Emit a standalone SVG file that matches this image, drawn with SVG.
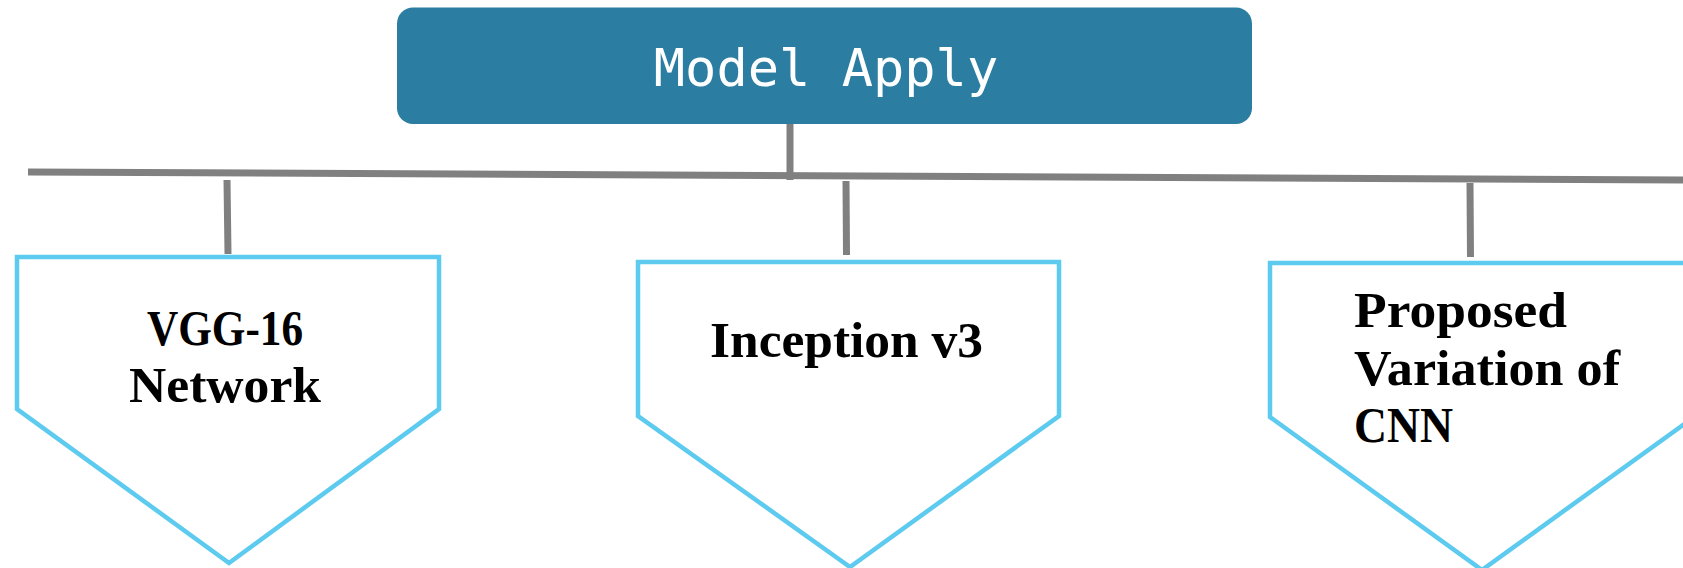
<svg xmlns="http://www.w3.org/2000/svg" width="1683" height="568" viewBox="0 0 1683 568">
<style>
.conn{stroke:#808080;stroke-width:7;fill:none}
.pent{fill:#ffffff;stroke:#5DCAEF;stroke-width:4.5;stroke-linejoin:miter}
.lbl{font-family:"Liberation Serif","Times New Roman",serif;font-weight:bold;font-size:50px;fill:#000}
.title{font-family:"DejaVu Sans Mono","Liberation Mono",monospace;font-size:52px;fill:#ffffff}
</style>
<rect width="1683" height="568" fill="#ffffff"/>
<g id="connectors">
<line class="conn" x1="790" y1="124" x2="790" y2="180"/>
<line class="conn" x1="28" y1="172" x2="1683" y2="180"/>
<line class="conn" x1="227" y1="180" x2="228" y2="254"/>
<line class="conn" x1="846" y1="181" x2="846.5" y2="255"/>
<line class="conn" x1="1470" y1="183" x2="1470.5" y2="257"/>
</g>
<g id="model-apply">
<rect x="397" y="7.5" width="855" height="116.5" rx="16" ry="16" fill="#2B7EA1"/>
<text class="title" x="826" y="86" text-anchor="middle">Model Apply</text>
</g>
<g id="vgg16">
<polygon class="pent" points="17,257 439,257 439,409 229,563 17,409"/>
<text class="lbl" x="147" y="345" textLength="156" lengthAdjust="spacingAndGlyphs">VGG-16</text>
<text class="lbl" x="129" y="402" textLength="192" lengthAdjust="spacingAndGlyphs">Network</text>
</g>
<g id="inception">
<polygon class="pent" points="638,262 1059,262 1059,416 850,567 638,416"/>
<text class="lbl" x="710" y="357" textLength="273" lengthAdjust="spacingAndGlyphs">Inception v3</text>
</g>
<g id="proposed">
<polygon class="pent" points="1270,263 1694,263 1694,417 1482,570 1270,417"/>
<text class="lbl" x="1354" y="327" textLength="213" lengthAdjust="spacingAndGlyphs">Proposed</text>
<text class="lbl" x="1354" y="385" textLength="266" lengthAdjust="spacingAndGlyphs">Variation of</text>
<text class="lbl" x="1354" y="442" textLength="99" lengthAdjust="spacingAndGlyphs">CNN</text>
</g>
</svg>
